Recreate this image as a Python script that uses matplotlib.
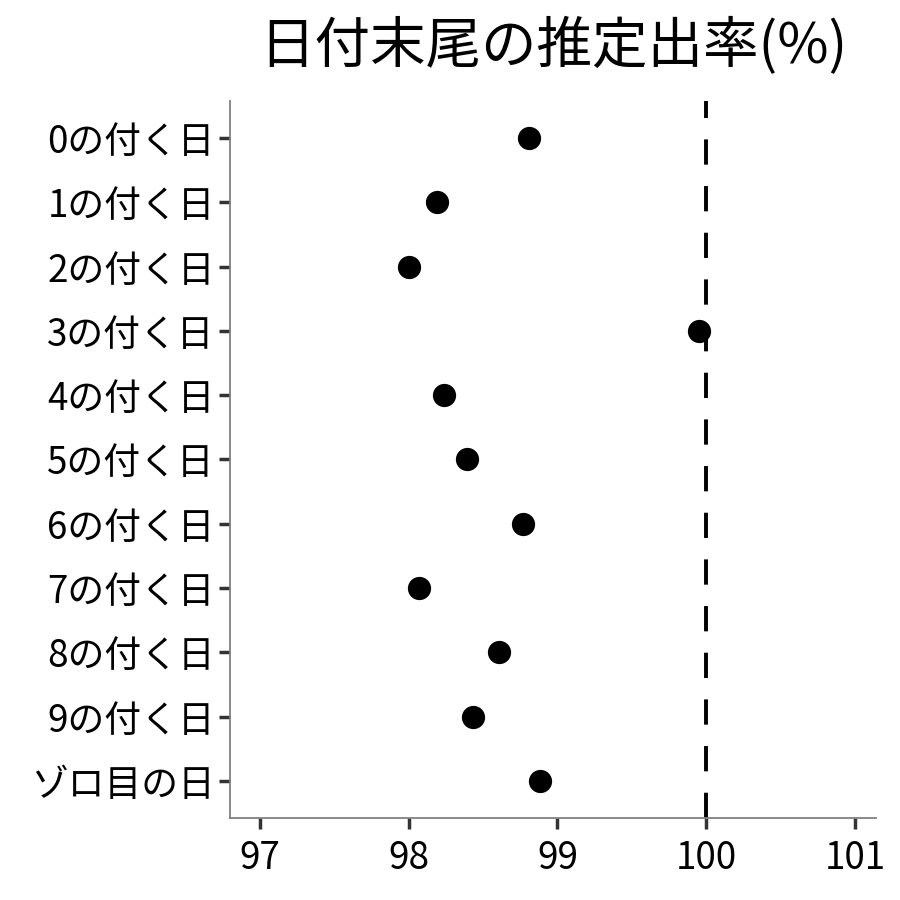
import matplotlib
matplotlib.use("Agg")
import matplotlib.pyplot as plt

plt.rcParams['font.family'] = ['Noto Sans CJK JP', 'DejaVu Sans']

categories = ["0の付く日", "1の付く日", "2の付く日", "3の付く日", "4の付く日",
              "5の付く日", "6の付く日", "7の付く日", "8の付く日", "9の付く日", "ゾロ目の日"]
values = [98.81, 98.19, 98.00, 99.95, 98.24, 98.39, 98.77, 98.07, 98.61, 98.43, 98.88]
xticks = [97, 98, 99, 100, 101]
title = "日付末尾の推定出率(%)"
ref_line = 100

fig = plt.figure(figsize=(9, 9), dpi=100)
ax = fig.add_axes([0.2556, 0.0911, 0.9733 - 0.2556, 0.8878 - 0.0911])

ypos = list(range(len(categories)))[::-1]
ax.axvline(ref_line, color='black', lw=2.8, linestyle=(0, (6.5, 5.5)), zorder=1)
ax.scatter(values, ypos, s=280, color='black', zorder=3, linewidths=0)

ax.set_xlim(96.8, 101.14)
ax.set_ylim(-0.575, len(categories) - 1 + 0.575)
ax.set_xticks(xticks)
ax.set_xticklabels([str(x) for x in xticks])
ax.set_yticks(ypos)
ax.set_yticklabels(categories)

for s in ['top', 'right']:
    ax.spines[s].set_visible(False)
for s in ['left', 'bottom']:
    ax.spines[s].set_color('#808080')
    ax.spines[s].set_linewidth(1.3)

ax.tick_params(axis='both', colors='#333333', length=8, width=2.5, labelsize=26.5,
               labelcolor='black', pad=3)
ax.tick_params(axis='x', pad=7)

fig.text((0.2556 + 0.9733) / 2, 0.948, title, ha='center', va='center', fontsize=40)

fig.savefig("out.png", dpi=100)
